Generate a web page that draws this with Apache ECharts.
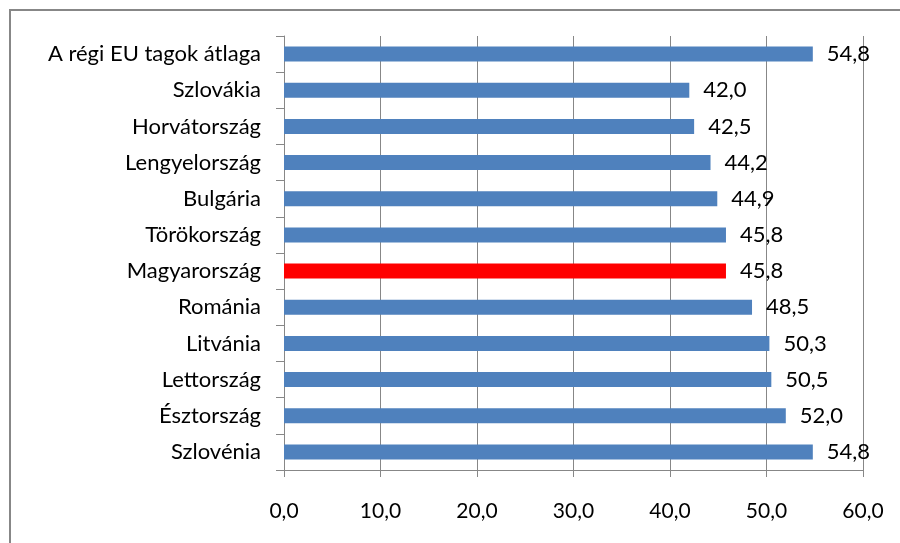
<!DOCTYPE html>
<html><head><meta charset="utf-8">
<script src="https://cdn.jsdelivr.net/npm/echarts@6/dist/echarts.min.js"></script>
<style>html,body{margin:0;padding:0;background:#fff;overflow:hidden}#c{width:900px;height:543px}
#frame{position:absolute;left:9px;top:9px;width:900px;height:545px;border:2px solid #878787;box-sizing:border-box;pointer-events:none}</style>
</head><body><div id="c"></div><div id="frame"></div>
<script>
const categories = ["A régi EU tagok átlaga","Szlovákia","Horvátország","Lengyelország","Bulgária","Törökország","Magyarország","Románia","Litvánia","Lettország","Észtország","Szlovénia"];
const values = [54.8,42.0,42.5,44.2,44.9,45.8,45.8,48.5,50.3,50.5,52.0,54.8];
const highlight = "Magyarország";
const xTicks = [0,10,20,30,40,50,60];
const fmt = v => v.toFixed(1).replace('.', ',');
const FONT = 'Lato';
const chart = echarts.init(document.getElementById('c'));
chart.setOption({
  animation:false,
  grid:{left:284,right:37,top:36,bottom:73},
  xAxis:{type:'value',min:xTicks[0],max:xTicks[xTicks.length-1],interval:10,
    axisLine:{show:true,lineStyle:{color:'#878787',width:1}},
    axisTick:{show:true,length:7,lineStyle:{color:'#878787'}},
    splitLine:{show:true,lineStyle:{color:'#878787',width:1}},
    axisLabel:{formatter:fmt,color:'#000',fontFamily:FONT,fontSize:21,margin:31}},
  yAxis:{type:'category',data:categories,inverse:true,
    axisLine:{show:true,lineStyle:{color:'#878787',width:1}},
    axisTick:{show:true,length:8,lineStyle:{color:'#878787'}},
    axisLabel:{color:'#000',fontFamily:FONT,fontSize:22,margin:23}},
  series:[{type:'bar',barWidth:15,
    data:values.map((v,i)=>({value:v,itemStyle:{color:categories[i]===highlight?'#FF0000':'#4F81BD'}})),
    label:{show:true,position:'right',distance:14,formatter:p=>fmt(p.value),color:'#000',fontFamily:FONT,fontSize:22}}]
});
</script></body></html>
